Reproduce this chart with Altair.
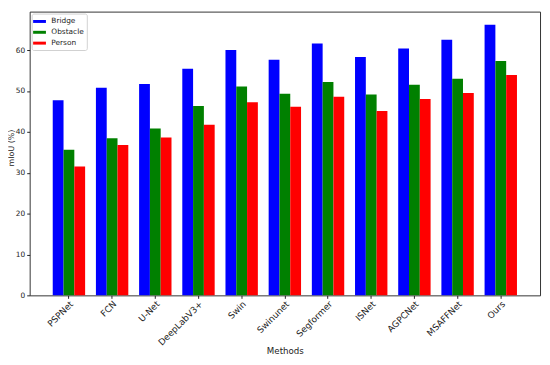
import altair as alt
import pandas as pd

methods = ["PSPNet", "FCN", "U-Net", "DeepLabV3+", "Swin", "Swinunet",
           "Segformer", "ISNet", "AGPCNet", "MSAFFNet", "Ours"]
series = ["Bridge", "Obstacle", "Person"]
bridge = [47.7, 50.8, 51.7, 55.4, 60.0, 57.6, 61.6, 58.3, 60.4, 62.5, 66.2]
obstacle = [35.6, 38.4, 40.8, 46.3, 51.1, 49.3, 52.2, 49.1, 51.5, 53.0, 57.3]
person = [31.5, 36.8, 38.6, 41.7, 47.2, 46.1, 48.6, 45.1, 48.0, 49.5, 53.9]
colors = ["#0000ff", "#008000", "#ff0000"]

rows = []
for name, vals in zip(series, [bridge, obstacle, person]):
    for m, v in zip(methods, vals):
        rows.append({"Method": m, "Series": name, "mIoU": v})
df = pd.DataFrame(rows)

W, H = 518, 288
FONT = "DejaVu Sans"

chart = alt.Chart(df).mark_bar().encode(
    x=alt.X("Method:N", sort=methods,
            scale=alt.Scale(paddingInner=0.25, paddingOuter=0.534),
            axis=alt.Axis(title="Methods", labelAngle=-45, labelAlign="right",
                          labelBaseline="top", labelFontSize=9, labelPadding=1,
                          tickSize=3, titleFontSize=8.8, titleFontWeight="normal",
                          titleY=52, titleBaseline="top", domain=False)),
    xOffset=alt.XOffset("Series:N", sort=series, scale=alt.Scale(paddingInner=0, paddingOuter=0)),
    y=alt.Y("mIoU:Q", scale=alt.Scale(domain=[0, 69.4], nice=False, zero=True),
            axis=alt.Axis(title="mIoU (%)", values=[0, 10, 20, 30, 40, 50, 60],
                          grid=False, tickSize=3, labelFontSize=7.5, labelPadding=2,
                          titleFontSize=8, titleFontWeight="normal",
                          titleX=-22, titleY=H / 2 - 6, titleBaseline="top",
                          titleAlign="center", domain=False)),
    color=alt.Color("Series:N", sort=series,
                    scale=alt.Scale(domain=series, range=colors),
                    legend=alt.Legend(title=None, orient="top-left", offset=2,
                                      fillColor="white", strokeColor="#d0d0d0",
                                      padding=3, cornerRadius=2,
                                      symbolType="M-1.3,-0.3H1.3V0.3H-1.3Z", symbolSize=100,
                                      symbolStrokeWidth=0, labelFontSize=7.5,
                                      rowPadding=2, labelOffset=7)),
).properties(
    width=W, height=H,
    autosize=alt.AutoSizeParams(type="none"),
    padding={"left": 22, "top": 1, "right": 2, "bottom": 66},
).configure(font=FONT).configure_axis(
    labelFont=FONT, titleFont=FONT, labelColor="#222", titleColor="#222",
    tickColor="#222"
).configure_legend(labelFont=FONT, labelColor="#222").configure_view(
    stroke="#333", strokeWidth=1
)

chart.save("out.html", embed_options={"renderer": "svg", "actions": False})
